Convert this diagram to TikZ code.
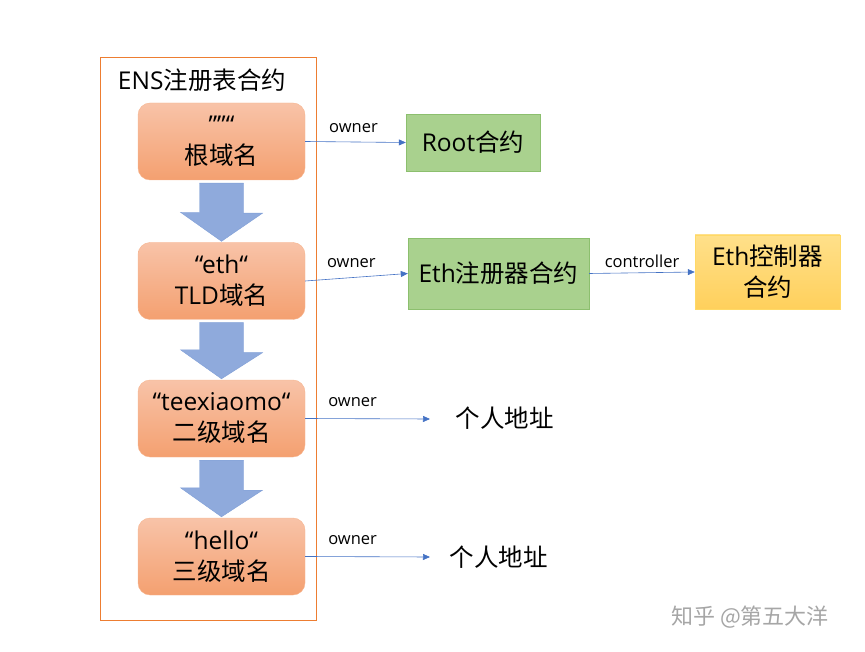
\documentclass[tikz,border=0pt]{standalone}
\usepackage{fontspec}
\setmainfont{Open Sans}
\newfontfamily\cjk{Noto Sans CJK SC}
\usetikzlibrary{arrows.meta}
\definecolor{ob}{HTML}{ED7D31}
\definecolor{otop}{HTML}{F8C3A8}
\definecolor{obot}{HTML}{F4A070}
\definecolor{gfill}{HTML}{A9D18E}
\definecolor{gline}{HTML}{8CBF6E}
\definecolor{yfill}{HTML}{FFD966}
\definecolor{ytop}{HTML}{FFE08A}
\definecolor{lb}{HTML}{4472C4}
\definecolor{ba}{HTML}{8FAADC}
\begin{document}
\begin{tikzpicture}[x=1pt,y=-1pt,
  big/.style={font=\fontsize{24.5}{31}\selectfont},
  dom/.style={draw=otop!80!ob,rounded corners=12pt,top color=otop,bottom color=obot,minimum width=167pt,minimum height=77pt,align=center,big,inner sep=0pt},
  gbox/.style={draw=gline,fill=gfill,align=center,big},
  lab/.style={font=\fontsize{16.5}{19}\selectfont},
  con/.style={draw=lb,-{Triangle[length=7pt,width=6pt]},line width=0.6pt},
  barr/.style={draw=ba!80!lb,fill=ba}]
\useasboundingbox (0,0) rectangle (865,652);
\node[draw=ob,line width=1pt,minimum width=216pt,minimum height=562pt,inner sep=0pt] (reg) at (208,339) {};
\node[big] (title) at (202,80) {ENS{\cjk 注册表合约}};
\node[dom] (d1) at (221.5,141.5) {""“\\{\cjk 根域名}};
\node[dom] (d2) at (221.5,281) {“eth“\\TLD{\cjk 域名}};
\node[dom] (d3) at (221.5,418.5) {“teexiaomo“\\{\cjk 二级域名}};
\node[dom] (d4) at (221.5,556.5) {“hello“\\{\cjk 三级域名}};
\foreach \a/\b in {d1/d2,d2/d3,d3/d4}{
  \path[barr] ([yshift=-3pt]\a.south) ++(-22,0) -- ++(44,0) -- ++(0,30) -- ++(19,0)
    -- ([yshift=1pt]\b.north) -- ++(-41,-29) -- ++(19,0) -- cycle;
}
\node[gbox,minimum width=134pt,minimum height=57pt] (root) at (473,142.5) {Root{\cjk 合约}};
\node[gbox,minimum width=181pt,minimum height=71pt] (ethr) at (498.5,273.5) {Eth{\cjk 注册器合约}};
\node[draw=yfill,top color=ytop,bottom color=yfill!90!orange,minimum width=145pt,minimum height=74pt,align=center,big,inner sep=0pt] (ethc) at (767.5,272) {Eth{\cjk 控制器}\\{\cjk 合约}};
\coordinate (e3) at (430,419);
\coordinate (e4) at (430,557);
\node[anchor=west,font=\cjk\fontsize{24.5}{31}\selectfont] (p3) at (452,418) {个人地址};
\node[anchor=west,font=\cjk\fontsize{24.5}{31}\selectfont] (p4) at (446,557) {个人地址};
\draw[con] (d1.east) -- (root.west) node[lab,pos=0.48,above=6pt] {owner};
\draw[con] (d2.east) -- (ethr.west) node[lab,pos=0.45,above=6pt] {owner};
\draw[con] (ethr.east) -- (ethc.west) node[lab,midway,above=1pt] {controller};
\draw[con] (d3.east) -- (e3) node[lab,pos=0.38,above=8pt] {owner};
\draw[con] (d4.east) -- (e4) node[lab,pos=0.38,above=8pt] {owner};
\node[font=\cjk\fontsize{22}{24}\selectfont,text=gray!70] (wm) at (750,617) {知乎 @第五大洋};
\end{tikzpicture}
\end{document}
